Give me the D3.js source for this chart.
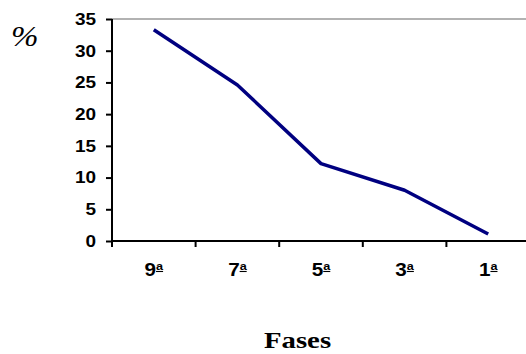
<!DOCTYPE html>
<html>
<head>
<meta charset="utf-8">
<script src="https://cdn.jsdelivr.net/npm/d3@7"></script>
<style>
  body { margin: 0; background: #fff; }
  svg { display: block; }
</style>
</head>
<body>
<div id="chart"></div>
<script>
(function () {
  const WIDTH = 526, HEIGHT = 354;

  // data
  const fases = ["9", "7", "5", "3", "1"]; // shown with ordinal "ª"
  const valores = [33.3, 24.6, 12.2, 8.0, 1.1];
  const yTicks = [0, 5, 10, 15, 20, 25, 30, 35];

  const margin = { left: 112, top: 19, bottom: 241 };
  const bandW = 83.6;
  const STRETCH = 1.15; // the original is drawn a bit wide
  const SANS = "Liberation Sans, Arial, sans-serif";
  const SERIF = "Liberation Serif, Times New Roman, serif";

  const svg = d3.select("#chart").append("svg")
    .attr("width", WIDTH).attr("height", HEIGHT);

  const x = d3.scaleBand().domain(fases)
    .range([margin.left, margin.left + bandW * fases.length]);
  const y = d3.scaleLinear().domain([0, 35]).range([margin.bottom, margin.top]);

  // gray top border of plot area
  svg.append("line")
    .attr("x1", margin.left).attr("x2", WIDTH)
    .attr("y1", y(35)).attr("y2", y(35))
    .attr("stroke", "#999").attr("stroke-width", 1.5);

  // y axis
  const yAxis = svg.append("g")
    .attr("transform", `translate(${margin.left},0)`)
    .call(d3.axisLeft(y).tickValues(yTicks).tickSize(6).tickPadding(10));
  yAxis.select(".domain").attr("stroke", "#000").attr("stroke-width", 2)
    .attr("d", `M0,${y(35)}V${y(0)}`);
  yAxis.selectAll(".tick line").attr("stroke", "#000").attr("stroke-width", 2);
  yAxis.selectAll(".tick text")
    .attr("x", null)
    .attr("transform", `translate(-16,0) scale(${STRETCH},1)`)
    .attr("font-family", SANS)
    .attr("font-weight", "bold").attr("font-size", "16.5px").attr("fill", "#000");

  // x axis: ticks at band edges, labels centered
  const xAxisG = svg.append("g");
  xAxisG.append("line")
    .attr("x1", margin.left).attr("x2", WIDTH)
    .attr("y1", y(0)).attr("y2", y(0))
    .attr("stroke", "#000").attr("stroke-width", 2);
  const edges = fases.map(f => x(f)).concat([x.range()[1]]);
  xAxisG.selectAll("line.tk").data(edges).join("line").attr("class", "tk")
    .attr("x1", d => d).attr("x2", d => d)
    .attr("y1", y(0)).attr("y2", y(0) + 6)
    .attr("stroke", "#000").attr("stroke-width", 2);
  const lbl = xAxisG.selectAll("text").data(fases).join("text")
    .attr("transform", d => `translate(${x(d) + x.bandwidth() / 2},${y(0) + 35}) scale(${STRETCH},1)`)
    .attr("text-anchor", "middle")
    .attr("font-family", SANS)
    .attr("font-weight", "bold").attr("font-size", "18px");
  lbl.append("tspan").text(d => d);
  lbl.append("tspan")
    .attr("dy", -6).attr("font-size", "11px")
    .style("text-decoration", "underline")
    .text("a");

  // series line
  const line = d3.line()
    .x((d, i) => x(fases[i]) + x.bandwidth() / 2)
    .y(d => y(d));
  svg.append("path").datum(valores)
    .attr("d", line)
    .attr("fill", "none")
    .attr("stroke", "#000080")
    .attr("stroke-width", 3.5)
    .attr("stroke-linejoin", "round");

  // axis titles
  svg.append("text")
    .attr("transform", "translate(11,46) scale(1.1,1)")
    .attr("font-family", SERIF)
    .attr("font-style", "italic").attr("font-size", "30px")
    .text("%");
  svg.append("text")
    .attr("transform", `translate(297.5,348) scale(1.2,1)`)
    .attr("text-anchor", "middle")
    .attr("font-family", SERIF)
    .attr("font-weight", "bold").attr("font-size", "24px")
    .text("Fases");
})();
</script>
</body>
</html>
